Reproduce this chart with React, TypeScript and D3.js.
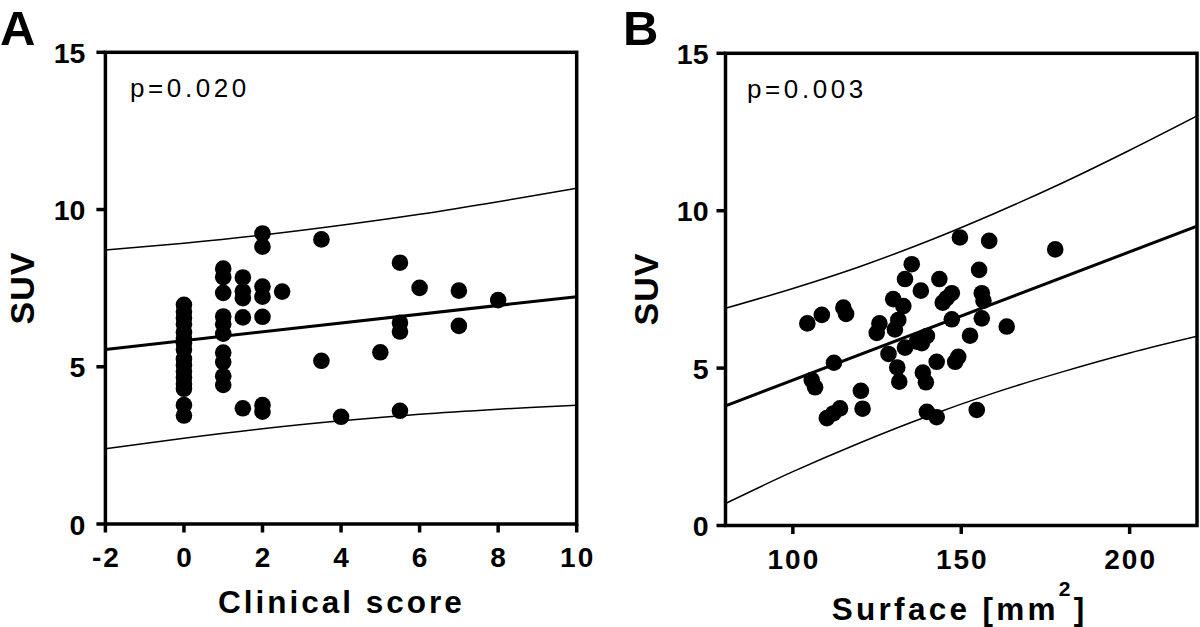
import React from 'react';
import * as d3 from 'd3';

const FONT = '"Liberation Sans", Arial, Helvetica, sans-serif';

// ---------- Panel A: Clinical score vs SUV ----------
const clinicalScore = [
  0, 0, 0, 0, 0, 0, 0, 0, 0, 0, 0, 0, 0, 0, 0, 0,
  1, 1, 1, 1, 1, 1, 1, 1, 1, 1,
  1.5, 1.5, 1.5, 1.5, 1.5,
  2, 2, 2, 2, 2, 2, 2,
  2.5,
  3.5, 3.5,
  4,
  5,
  5.5, 5.5, 5.5, 5.5,
  6,
  7, 7,
  8,
];
const suvClinical = [
  6.97, 6.75, 6.55, 6.35, 6.1, 5.9, 5.75, 5.55, 5.25, 5.05, 4.85, 4.65, 4.45, 4.3, 3.78, 3.45,
  8.12, 7.85, 7.35, 6.6, 6.35, 6.05, 5.45, 5.15, 4.7, 4.42,
  7.84, 7.4, 7.18, 6.57, 3.68,
  9.24, 8.82, 7.55, 7.23, 6.59, 3.78, 3.57,
  7.39,
  9.05, 5.19,
  3.41,
  5.46,
  8.31, 6.4, 6.12, 3.6,
  7.51,
  7.42, 6.3,
  7.12,
];
const aXTicks = [-2, 0, 2, 4, 6, 8, 10];
const yTicks = [0, 5, 10, 15];
const aFitX = [-2, 10];
const aFitY = [5.55, 7.23];
const aBandX = [-2, 0, 2, 4, 6, 8, 10];
const aBandUpper = [8.71, 8.93, 9.19, 9.5, 9.85, 10.25, 10.68];
const aBandLower = [2.39, 2.73, 3.03, 3.28, 3.49, 3.65, 3.78];

// ---------- Panel B: Surface vs SUV ----------
const surface = [
  149.6, 158.3, 135.3, 155.3, 133.3, 143.5, 138.0, 147.2, 145.7, 144.5,
  129.8, 132.8, 156.1, 156.6, 115.0, 115.8, 108.6, 104.3, 125.7, 124.9,
  131.3, 130.3, 147.2, 156.1, 163.5, 152.6, 139.8, 138.3, 136.8, 133.3,
  128.4, 112.2, 142.7, 149.1, 148.2, 131.0, 131.6, 138.6, 139.5, 105.6,
  106.6, 120.2, 120.7, 114.0, 112.0, 110.1, 139.8, 142.7, 154.6, 177.9,
];
const suvSurface = [
  9.15, 9.04, 8.3, 8.12, 7.83, 7.83, 7.46, 7.38, 7.22, 7.08,
  7.19, 6.97, 7.38, 7.14, 6.92, 6.72, 6.69, 6.42, 6.42, 6.12,
  6.53, 6.23, 6.55, 6.58, 6.32, 6.03, 6.02, 5.79, 5.84, 5.65,
  5.45, 5.17, 5.2, 5.36, 5.2, 5.02, 4.57, 4.86, 4.55, 4.62,
  4.39, 4.28, 3.71, 3.72, 3.56, 3.41, 3.61, 3.44, 3.67, 8.77,
];
const bXTicks = [100, 150, 200];
const bFitX = [80, 220];
const bFitY = [3.8, 9.51];
const bBandX = [80, 100, 120, 140, 160, 180, 200, 220];
const bBandUpper = [6.9, 7.53, 8.23, 9.03, 9.92, 10.88, 11.92, 13.01];
const bBandLower = [0.7, 1.71, 2.63, 3.47, 4.22, 4.88, 5.48, 6.01];

type PanelProps = {
  id: string;
  left: number;
  right: number;
  top: number;
  bottom: number;
  xDomain: [number, number];
  xTicks: number[];
  xs: number[];
  ys: number[];
  fitX: number[];
  fitY: number[];
  bandX: number[];
  bandUpper: number[];
  bandLower: number[];
  yLabelGap: number;
};

function Panel(p: PanelProps) {
  const x = d3.scaleLinear().domain(p.xDomain).range([p.left, p.right]);
  const y = d3.scaleLinear().domain([0, 15]).range([p.bottom, p.top]);
  const band = (vals: number[]) =>
    d3
      .line<number>()
      .x((_, i) => x(p.bandX[i]))
      .y((v) => y(v))
      .curve(d3.curveCatmullRom)(vals) || '';
  const fit =
    d3
      .line<number>()
      .x((_, i) => x(p.fitX[i]))
      .y((v) => y(v))(p.fitY) || '';
  const clipId = `clip-${p.id}`;
  return (
    <g>
      <defs>
        <clipPath id={clipId}>
          <rect x={p.left} y={p.top} width={p.right - p.left} height={p.bottom - p.top} />
        </clipPath>
      </defs>
      <g clipPath={`url(#${clipId})`}>
        <path d={band(p.bandUpper)} fill="none" stroke="#000" strokeWidth={1.5} />
        <path d={band(p.bandLower)} fill="none" stroke="#000" strokeWidth={1.5} />
        <path d={fit} fill="none" stroke="#000" strokeWidth={3} />
      </g>
      {p.xs.map((v, i) => (
        <circle key={i} cx={x(v)} cy={y(p.ys[i])} r={8.3} fill="#000" />
      ))}
      <rect
        x={p.left}
        y={p.top}
        width={p.right - p.left}
        height={p.bottom - p.top}
        fill="none"
        stroke="#000"
        strokeWidth={3.5}
      />
      {yTicks.map((t) => (
        <g key={`y${t}`}>
          <line x1={p.left - 9} x2={p.left} y1={y(t)} y2={y(t)} stroke="#000" strokeWidth={3.5} />
          <text
            x={p.left - p.yLabelGap}
            y={y(t) + 10.5}
            textAnchor="end"
            fontFamily={FONT}
            fontWeight="bold"
            fontSize={28.5}
            fill="#000"
          >
            {t}
          </text>
        </g>
      ))}
      {p.xTicks.map((t) => (
        <g key={`x${t}`}>
          <line x1={x(t)} x2={x(t)} y1={p.bottom} y2={p.bottom + 8.5} stroke="#000" strokeWidth={3.5} />
          <text
            x={x(t) + 1}
            y={p.bottom + 43}
            textAnchor="middle"
            fontFamily={FONT}
            fontWeight="bold"
            fontSize={28}
            letterSpacing={2}
            fill="#000"
          >
            {t}
          </text>
        </g>
      ))}
    </g>
  );
}

export default function App() {
  return (
    <svg
      width={1200}
      height={627}
      viewBox="0 0 1200 627"
      style={{ position: 'absolute', left: 0, top: 0, background: '#fff' }}
    >
      <rect x={0} y={0} width={1200} height={627} fill="#fff" />
      <Panel
        id="a"
        left={105.4}
        right={576.7}
        top={52.3}
        bottom={524}
        xDomain={[-2, 10]}
        xTicks={aXTicks}
        xs={clinicalScore}
        ys={suvClinical}
        fitX={aFitX}
        fitY={aFitY}
        bandX={aBandX}
        bandUpper={aBandUpper}
        bandLower={aBandLower}
        yLabelGap={20}
      />
      <Panel
        id="b"
        left={725.5}
        right={1197}
        top={53.3}
        bottom={525.5}
        xDomain={[80, 220]}
        xTicks={bXTicks}
        xs={surface}
        ys={suvSurface}
        fitX={bFitX}
        fitY={bFitY}
        bandX={bBandX}
        bandUpper={bBandUpper}
        bandLower={bBandLower}
        yLabelGap={17}
      />
      {/* Panel letters */}
      <text x={0} y={45} fontFamily={FONT} fontWeight="bold" fontSize={49} fill="#000">A</text>
      <text x={623} y={45} fontFamily={FONT} fontWeight="bold" fontSize={49} fill="#000">B</text>
      {/* p values */}
      <text x={130} y={97} fontFamily={FONT} fontSize={26} letterSpacing={3.6} fill="#000">p=0.020</text>
      <text x={747} y={98} fontFamily={FONT} fontSize={26} letterSpacing={3.6} fill="#000">p=0.003</text>
      {/* axis titles */}
      <text x={218} y={612.7} fontFamily={FONT} fontWeight="bold" fontSize={31.5} letterSpacing={3} fill="#000">
        Clinical score
      </text>
      <text x={831.7} y={620} fontFamily={FONT} fontWeight="bold" fontSize={31.5} letterSpacing={3.3} fill="#000">
        Surface [mm
        <tspan fontSize={21} dy={-24}>2</tspan>
        <tspan dy={24}>]</tspan>
      </text>
      <text
        transform="translate(34,288) rotate(-90)"
        textAnchor="middle"
        fontFamily={FONT}
        fontWeight="bold"
        fontSize={34}
        letterSpacing={1}
        fill="#000"
      >
        SUV
      </text>
      <text
        transform="translate(658,289) rotate(-90)"
        textAnchor="middle"
        fontFamily={FONT}
        fontWeight="bold"
        fontSize={34}
        letterSpacing={1}
        fill="#000"
      >
        SUV
      </text>
    </svg>
  );
}
